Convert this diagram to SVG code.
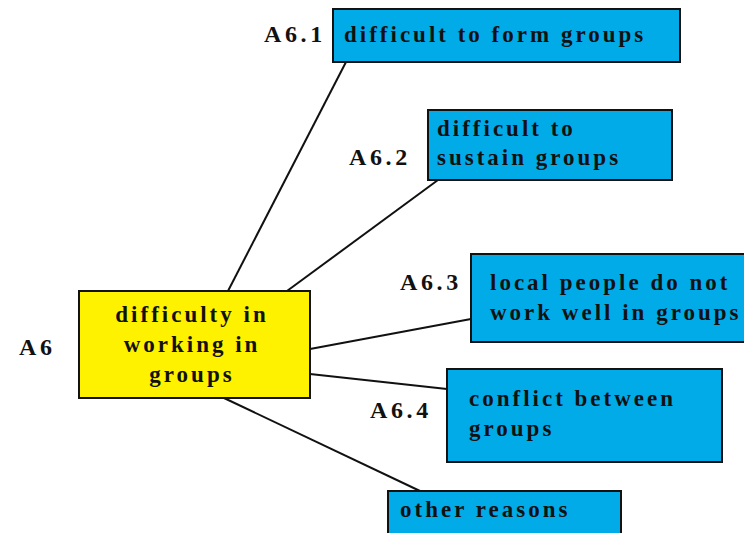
<svg xmlns="http://www.w3.org/2000/svg" width="744" height="533" viewBox="0 0 744 533">
<style>
.box{fill:#00ABE8;stroke:#111;stroke-width:2}
.main{fill:#FFF200;stroke:#111;stroke-width:2}
text{font-family:"Liberation Serif","Times New Roman",serif;font-weight:bold;font-size:23px;letter-spacing:3px;fill:#111}
.lbl{font-size:24px;letter-spacing:3.6px}
.c{text-anchor:middle}
line{stroke:#111;stroke-width:2}
</style>
<rect width="744" height="533" fill="#fff"/>
<g id="connectors">
<line x1="228" y1="291" x2="346" y2="62"/>
<line x1="287" y1="291" x2="438" y2="180"/>
<line x1="310" y1="349" x2="471" y2="319"/>
<line x1="310" y1="374" x2="447" y2="389"/>
<line x1="224" y1="398" x2="420" y2="491"/>
</g>
<g id="A6">
<rect class="main" x="79" y="291" width="231" height="107"/>
<text class="c" x="192" y="322">difficulty in</text>
<text class="c" x="192" y="352">working in</text>
<text class="c" x="192" y="382">groups</text>
<text class="lbl" x="19" y="355">A6</text>
</g>
<g id="A6.1">
<rect class="box" x="333" y="9" width="347" height="53"/>
<text x="344" y="42">difficult to form groups</text>
<text class="lbl" x="264" y="42">A6.1</text>
</g>
<g id="A6.2">
<rect class="box" x="428" y="110" width="244" height="70"/>
<text x="437" y="136">difficult to</text>
<text x="437" y="165">sustain groups</text>
<text class="lbl" x="349" y="165">A6.2</text>
</g>
<g id="A6.3">
<rect class="box" x="471" y="254" width="280" height="88"/>
<text x="490" y="290">local people do not</text>
<text x="490" y="320">work well in groups</text>
<text class="lbl" x="400" y="290">A6.3</text>
</g>
<g id="A6.4">
<rect class="box" x="447" y="369" width="275" height="93"/>
<text x="469" y="406">conflict between</text>
<text x="469" y="436">groups</text>
<text class="lbl" x="370" y="418">A6.4</text>
</g>
<g id="A6.5">
<rect class="box" x="388" y="491" width="233" height="50"/>
<text x="400" y="517">other reasons</text>
</g>
</svg>
